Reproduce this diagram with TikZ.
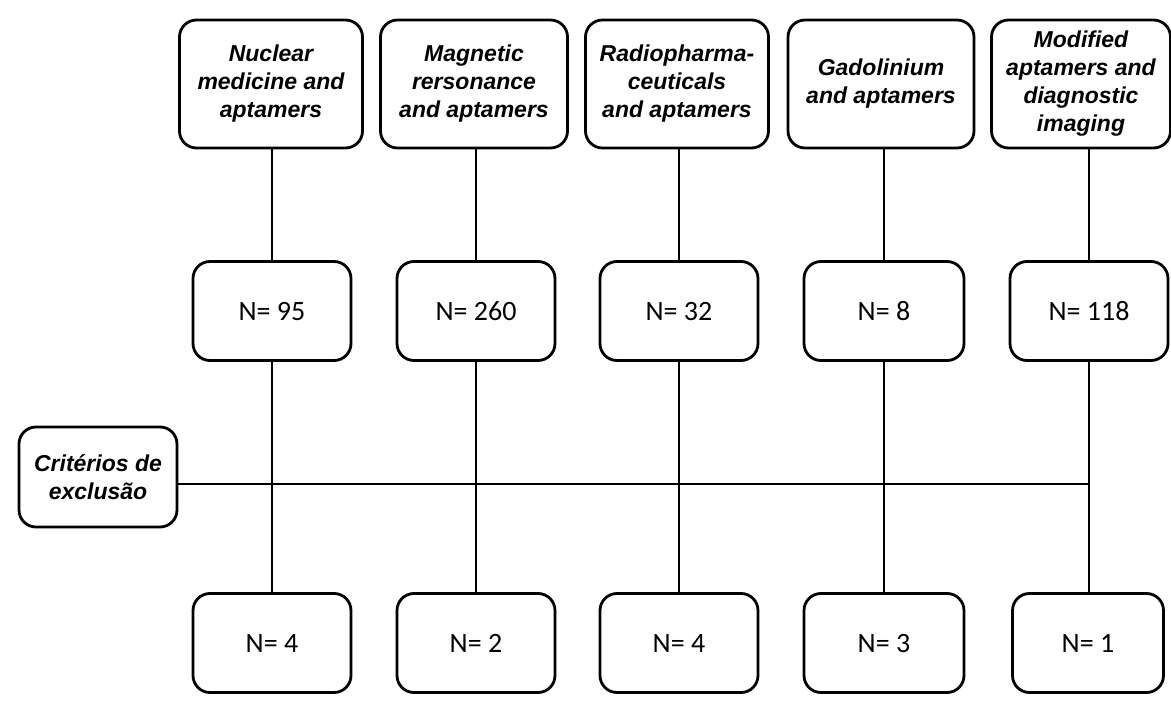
\documentclass[tikz,border=0pt]{standalone}
\usepackage{fontspec}
\setmainfont{Liberation Sans}
\newfontfamily\numfont{Carlito}

\begin{document}
\begin{tikzpicture}[x=1pt,y=-1pt,
  box/.style={draw,line width=2.8pt,rounded corners=17pt,inner sep=0pt,align=center,fill=white},
  topic/.style={box,minimum height=128pt,font=\fontsize{23}{28}\selectfont\bfseries\itshape},
  count/.style={box,minimum width=158pt,minimum height=99pt,text height=19pt,text depth=0pt,font=\numfont\fontsize{28}{32}\selectfont},
  link/.style={line width=1.6pt}]
\path[use as bounding box,fill=white] (0,0) rectangle (1171,706);
\node[topic,minimum width=183pt] (t1) at (271,84) {Nuclear\\medicine and\\aptamers};
\node[topic,minimum width=187pt] (t2) at (474,84) {Magnetic\\rersonance\\and aptamers};
\node[topic,minimum width=183pt] (t3) at (677,84) {Radiopharma-\\ceuticals\\and aptamers};
\node[topic,minimum width=186pt] (t4) at (881,84) {Gadolinium\\and aptamers};
\node[topic,minimum width=179pt] (t5) at (1081,84) {Modified\\aptamers and\\diagnostic\\imaging};
\node[count] (m1) at (272,311) {N= 95};
\node[count] (m2) at (476,311) {N= 260};
\node[count] (m3) at (679,311) {N= 32};
\node[count,minimum width=160pt] (m4) at (884,311) {N= 8};
\node[count] (m5) at (1089,311) {N= 118};
\node[count] (b1) at (272,643) {N= 4};
\node[count] (b2) at (476,643) {N= 2};
\node[count] (b3) at (679,643) {N= 4};
\node[count,minimum width=160pt] (b4) at (884,643) {N= 3};
\node[count,minimum width=151pt] (b5) at (1088,643) {N= 1};
\node[box,minimum width=158pt,minimum height=100pt,font=\fontsize{23}{28}\selectfont\bfseries\itshape] (excl) at (98,477) {Critérios de\\exclusão};
\foreach \i in {1,...,5} {
  \draw[link] (m\i.north |- t\i.south) -- (m\i.north);
  \draw[link] (m\i.south) -- (m\i.south |- b\i.north);
}
\draw[link] ([yshift=-7pt]excl.east) -- ([yshift=-7pt]excl.east -| m5.south);
\end{tikzpicture}
\end{document}
